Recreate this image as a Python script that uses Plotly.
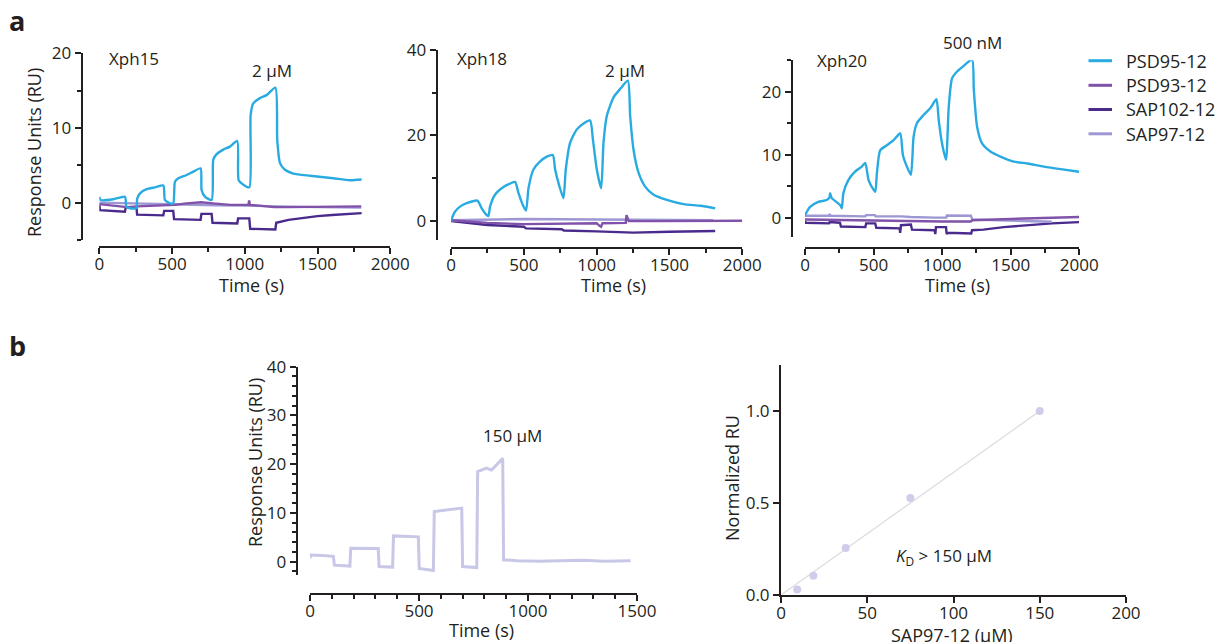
import plotly.graph_objects as go

# ---------------- data ----------------
# Xph15, 2 uM top concentration
XPH15_PSD95_T = [0, 9, 96, 176, 188, 252, 261, 280, 325, 383, 440, 451, 486, 508, 520, 543, 600, 646, 696, 703,
                 726, 772, 783, 802, 852, 898, 948, 958, 990, 1031, 1040, 1058, 1104, 1150, 1210, 1223, 1242, 1276,
                 1333, 1448, 1608, 1723, 1803]
XPH15_PSD95_RU = [0.8, 0.36, 0.45, 0.8, -0.6, -0.76, 0.58, 1.25, 1.8, 2.05, 2.3, 0.36, -0.1, -0.1, 2.8, 3.26, 3.7,
                  4.15, 4.6, 1.7, 0.8, 0.36, 5.7, 6.4, 7.1, 7.5, 8.26, 3.0, 2.4, 2.05, 11.7, 13.3, 14.0, 14.4, 15.4,
                  8.4, 5.3, 4.4, 3.9, 3.6, 3.26, 3.0, 3.1]
XPH15_PSD93_T = [0, 100, 190, 260, 400, 520, 600, 700, 780, 900, 1000, 1025, 1030, 1035, 1100, 1200, 1300, 1500, 1800]
XPH15_PSD93_RU = [-0.2, -0.4, -0.6, -0.5, -0.4, -0.3, -0.1, 0.05, -0.1, -0.3, -0.3, -0.3, 0.3, -0.3, -0.4, -0.6,
                  -0.6, -0.6, -0.5]
XPH15_SAP102_T = [0, 5, 176, 182, 255, 260, 440, 446, 508, 514, 696, 702, 772, 778, 948, 954, 1031, 1037, 1210, 1216,
                  1300, 1400, 1500, 1600, 1700, 1803]
XPH15_SAP102_RU = [-0.3, -1.0, -1.2, -0.6, -0.6, -1.6, -1.7, -1.1, -1.1, -2.2, -2.3, -1.5, -1.5, -2.7, -2.8, -2.1,
                   -2.1, -3.5, -3.6, -2.7, -2.3, -2.0, -1.8, -1.65, -1.5, -1.4]
XPH15_SAP97_T = [0, 200, 400, 600, 800, 1000, 1200, 1500, 1800]
XPH15_SAP97_RU = [0.0, -0.1, -0.2, -0.3, -0.35, -0.4, -0.5, -0.6, -0.65]

# Xph18, 2 uM top concentration
XPH18_PSD95_T = [0, 27, 62, 108, 181, 211, 240, 257, 268, 302, 360, 405, 440, 463, 493, 515, 532, 566, 612, 658, 699,
                 715, 745, 772, 788, 818, 864, 910, 955, 974, 1001, 1031, 1047, 1070, 1116, 1162, 1214, 1230, 1253,
                 1288, 1333, 1391, 1482, 1597, 1711, 1814]
XPH18_PSD95_RU = [0, 2.1, 3.3, 4.1, 4.7, 2.9, 1.5, 1.1, 3.3, 6.1, 7.9, 8.7, 9.1, 6.5, 3.7, 2.4, 7.6, 12.0, 13.9, 15.0,
                  15.4, 12.0, 8.0, 5.3, 12.0, 18.3, 21.4, 22.8, 23.5, 19.1, 12.0, 7.6, 18.3, 24.6, 28.9, 30.9, 32.8,
                  24.6, 16.7, 11.2, 8.0, 6.1, 4.9, 3.9, 3.5, 2.9]
XPH18_PSD93_T = [0, 250, 500, 700, 1000, 1020, 1030, 1040, 1200, 1205, 1212, 1220, 1400, 1700, 2000]
XPH18_PSD93_RU = [0.1, -0.5, -0.8, -0.7, -0.6, -1.2, -1.4, -0.6, -0.5, 1.3, 0.5, -0.1, -0.1, 0.0, 0.0]
XPH18_SAP102_T = [0, 100, 250, 500, 515, 760, 775, 1000, 1200, 1250, 1500, 1814]
XPH18_SAP102_RU = [-0.1, -0.5, -1.0, -1.4, -1.8, -2.0, -2.3, -2.5, -2.7, -2.8, -2.6, -2.4]
XPH18_SAP97_T = [0, 250, 500, 1000, 1500, 1800]
XPH18_SAP97_RU = [0.1, 0.3, 0.4, 0.3, 0.2, 0.1]

# Xph20, 500 nM top concentration
XPH20_PSD95_T = [0, 37, 97, 158, 178, 183, 190, 195, 256, 268, 280, 317, 365, 414, 439, 463, 487, 512, 524, 548, 597,
                 646, 694, 714, 743, 772, 792, 816, 865, 914, 958, 975, 999, 1028, 1048, 1072, 1109, 1157, 1218, 1231,
                 1255, 1291, 1352, 1425, 1523, 1620, 1742, 1864, 1998]
XPH20_PSD95_RU = [0.4, 1.7, 2.5, 2.8, 3.2, 3.9, 3.4, 3.1, 2.0, 1.5, 3.9, 6.0, 7.3, 8.1, 8.7, 6.0, 4.9, 4.1, 7.0, 10.7,
                  11.5, 12.3, 13.4, 9.9, 8.1, 6.8, 12.9, 15.0, 16.3, 17.4, 18.8, 15.5, 11.8, 9.2, 17.6, 22.1, 23.2,
                  24.1, 25.1, 20.3, 14.4, 11.8, 10.5, 9.7, 8.9, 8.6, 8.1, 7.7, 7.3]
XPH20_PSD93_T = [0, 250, 500, 750, 1000, 1210, 1220, 1500, 1800, 1998]
XPH20_PSD93_RU = [-0.3, -0.4, -0.5, -0.55, -0.6, -0.6, -0.4, -0.2, 0.0, 0.1]
XPH20_SAP102_T = [0, 5, 175, 180, 255, 262, 440, 446, 512, 520, 690, 694, 700, 772, 780, 945, 950, 955, 1028, 1033,
                  1040, 1212, 1218, 1300, 1450, 1600, 1800, 1998]
XPH20_SAP102_RU = [-0.5, -0.8, -0.9, -0.7, -0.8, -1.4, -1.5, -0.9, -0.9, -1.6, -1.7, -2.4, -1.2, -1.1, -1.9, -2.0,
                   -2.6, -1.5, -1.5, -2.6, -2.4, -2.5, -2.0, -1.9, -1.5, -1.2, -0.9, -0.7]
XPH20_SAP97_T = [0, 175, 180, 185, 440, 445, 510, 515, 700, 770, 950, 1030, 1035, 1210, 1220, 1500, 1800]
XPH20_SAP97_RU = [0.3, 0.3, 0.6, 0.3, 0.2, 0.4, 0.4, 0.2, 0.2, 0.1, 0.0, 0.0, 0.35, 0.3, -0.3, -0.5, -0.65]

# SAP97-12 titration, 150 uM top concentration
SAP97_SCAN_T = [0, 3, 60, 107, 112, 183, 187, 250, 313, 317, 379, 383, 440, 497, 501, 566, 570, 630, 696, 700, 765,
                769, 810, 833, 884, 888, 950, 1050, 1150, 1250, 1350, 1470]
SAP97_SCAN_RU = [0.7, 1.4, 1.3, 1.1, -0.7, -0.9, 2.75, 2.8, 2.7, -1.0, -1.1, 5.3, 5.2, 5.1, -1.4, -1.8, 10.3, 10.6,
                 11.0, -1.0, -1.2, 18.5, 19.2, 18.8, 21.2, 0.4, 0.2, 0.1, 0.2, 0.3, 0.1, 0.2]

# Steady-state response vs concentration
SAP97_CONC = [9.375, 18.75, 37.5, 75, 150]
SAP97_NORM_RU = [0.03, 0.105, 0.255, 0.527, 1.0]
FIT_CONC = [0, 150]
FIT_NORM_RU = [0, 1.0]

SERIES = ["PSD95-12", "PSD93-12", "SAP102-12", "SAP97-12"]

# ---------------- style ----------------
W, H = 1221, 642
INK = "#231f20"
FONT = "Open Sans"
COLORS = {"PSD95-12": "#29abe2", "PSD93-12": "#8152a9", "SAP102-12": "#4a2a8c", "SAP97-12": "#9d98d4"}
SCAN_COLOR = "#c8c7e7"


def fx(p):
    return p / W


def fy(p):
    return 1 - p / H


fig = go.Figure()


def axis_common(size=17):
    return dict(showline=True, linecolor=INK, linewidth=2, ticks="outside", ticklen=6, tickwidth=2,
                tickcolor=INK, showgrid=False, zeroline=False, automargin=False,
                tickfont=dict(family=FONT, size=size, color=INK))


def sensor_axes(n, x0, x1, xmax, ytop, ybot, yr, xline, yline, xdt, xmdt, ydt, ymdt):
    sx = "xaxis" if n == 1 else f"xaxis{n}"
    sy = "yaxis" if n == 1 else f"yaxis{n}"
    xa = axis_common()
    xa.update(domain=[fx(x0), fx(x1)], range=[0, xmax], anchor="free", position=fy(xline),
              dtick=xdt, tick0=0, ticklabelstandoff=-5,
              minor=dict(ticks="outside", ticklen=4, tickwidth=2, tickcolor=INK, dtick=xmdt, tick0=0))
    ya = axis_common()
    ya.update(domain=[fy(ybot), fy(ytop)], range=yr, anchor="free", position=fx(yline),
              dtick=ydt, tick0=0,
              minor=dict(ticks="outside", ticklen=4, tickwidth=2, tickcolor=INK, dtick=ymdt, tick0=0))
    fig.update_layout(**{sx: xa, sy: ya})


def add_line(n, t, ru, color, width=2.4, smooth=False):
    suffix = "" if n == 1 else str(n)
    line = dict(color=color, width=width)
    if smooth:
        line.update(shape="spline", smoothing=0.6)
    fig.add_trace(go.Scatter(x=t, y=ru, mode="lines", line=line,
                             xaxis="x" + suffix, yaxis="y" + suffix, showlegend=False, hoverinfo="skip"))


# panel a: three compounds
sensor_axes(1, 99.3, 390.3, 2000, 53.3, 240.0, [-5, 20], 247.3, 81.7, 500, 250, 10, 5)
sensor_axes(2, 451, 742.3, 2000, 50, 239.5, [-4.4, 40], 248.3, 436.7, 500, 250, 20, 10)
sensor_axes(3, 805, 1079.3, 2000, 60.2, 237.2, [-3.1, 25], 248.3, 791.7, 500, 250, 10, 5)

panels = [
    (1, {"PSD95-12": (XPH15_PSD95_T, XPH15_PSD95_RU), "PSD93-12": (XPH15_PSD93_T, XPH15_PSD93_RU),
         "SAP102-12": (XPH15_SAP102_T, XPH15_SAP102_RU), "SAP97-12": (XPH15_SAP97_T, XPH15_SAP97_RU)}),
    (2, {"PSD95-12": (XPH18_PSD95_T, XPH18_PSD95_RU), "PSD93-12": (XPH18_PSD93_T, XPH18_PSD93_RU),
         "SAP102-12": (XPH18_SAP102_T, XPH18_SAP102_RU), "SAP97-12": (XPH18_SAP97_T, XPH18_SAP97_RU)}),
    (3, {"PSD95-12": (XPH20_PSD95_T, XPH20_PSD95_RU), "PSD93-12": (XPH20_PSD93_T, XPH20_PSD93_RU),
         "SAP102-12": (XPH20_SAP102_T, XPH20_SAP102_RU), "SAP97-12": (XPH20_SAP97_T, XPH20_SAP97_RU)}),
]
draw_order = ["SAP102-12", "SAP97-12", "PSD93-12", "PSD95-12"]
for n, series in panels:
    for name in draw_order:
        t, ru = series[name]
        add_line(n, t, ru, COLORS[name], smooth=(name == "PSD95-12"))

# panel b, left: SAP97-12 sensorgram
sensor_axes(4, 310, 637, 1500, 366.7, 574.9, [-2.7, 40], 594.3, 296.7, 500, 100, 10, 2)
add_line(4, SAP97_SCAN_T, SAP97_SCAN_RU, SCAN_COLOR, width=3)

# panel b, right: normalized response vs concentration
xa5 = axis_common()
xa5.update(domain=[fx(781), fx(1126)], range=[0, 200], anchor="y5", dtick=50, tick0=0, ticklen=6,
           ticklabelstandoff=-4)
ya5 = axis_common()
ya5.update(domain=[fy(595), fy(365)], range=[0, 1.25], anchor="x5", tickvals=[0, 0.5, 1.0],
           tickformat=".1f", ticklen=6)
fig.update_layout(xaxis5=xa5, yaxis5=ya5)
fig.add_trace(go.Scatter(x=FIT_CONC, y=FIT_NORM_RU, mode="lines", line=dict(color="#dcdce2", width=1.3),
                         xaxis="x5", yaxis="y5", showlegend=False, hoverinfo="skip"))
fig.add_trace(go.Scatter(x=SAP97_CONC, y=SAP97_NORM_RU, mode="markers",
                         marker=dict(color="#cfcde9", size=8), cliponaxis=False,
                         xaxis="x5", yaxis="y5", showlegend=False, hoverinfo="skip"))

# ---------------- text ----------------
ann = []


def text(x, y, s, size=17, xanchor="center", angle=0, bold=False):
    ann.append(dict(x=fx(x), y=fy(y), xref="paper", yref="paper", text=f"<b>{s}</b>" if bold else s,
                    showarrow=False, xanchor=xanchor, yanchor="middle", textangle=angle,
                    font=dict(family=FONT, size=size, color=INK)))


text(17, 20, "a", size=27, bold=True)
text(17, 346, "b", size=27, bold=True)
text(107, 58, "Xph15", xanchor="left")
text(272, 71, "2 μM")
text(455, 58, "Xph18", xanchor="left")
text(625, 71, "2 μM")
text(815, 60, "Xph20", xanchor="left")
text(972, 43, "500 nM")
text(512, 435, "150 μM")
text(894, 556, "<i>K</i><sub>D</sub> &gt; 150 μM", xanchor="left")

text(34, 153, "Response Units (RU)", size=18, angle=-90)
text(251, 285, "Time (s)", size=18)
text(613, 285, "Time (s)", size=18)
text(957, 285, "Time (s)", size=18)
text(255, 463, "Response Units (RU)", size=18, angle=-90)
text(481, 630, "Time (s)", size=18)
text(732, 478, "Normalized RU", size=18, angle=-90)
text(952, 635, "SAP97-12 (μM)", size=18)

# legend for panel a
shapes = []
legend_rows = [60.7, 85.3, 109.5, 133.8]
for name, yrow in zip(SERIES, legend_rows):
    shapes.append(dict(type="line", xref="paper", yref="paper", x0=fx(1088.5), x1=fx(1112), y0=fy(yrow),
                       y1=fy(yrow), line=dict(color=COLORS[name], width=3)))
    text(1124, yrow, name, size=18, xanchor="left")

fig.update_layout(width=W, height=H, margin=dict(l=0, r=0, t=0, b=0), plot_bgcolor="white",
                  paper_bgcolor="white", annotations=ann, shapes=shapes, showlegend=False,
                  font=dict(family=FONT, color=INK))

fig.write_html("out.html")
